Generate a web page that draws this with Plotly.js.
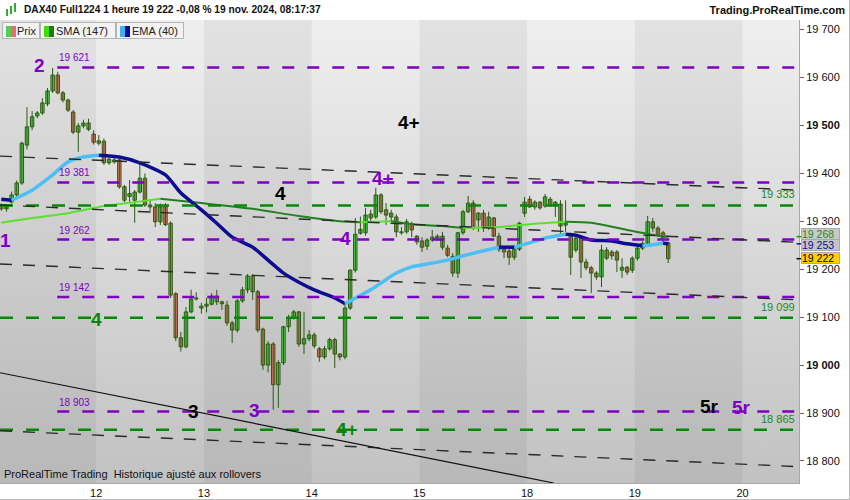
<!DOCTYPE html>
<html><head><meta charset="utf-8">
<script src="https://cdn.plot.ly/plotly-3.0.1.min.js"></script>
<style>
body{margin:0;width:850px;height:500px;overflow:hidden;background:#fff;font-family:"Liberation Sans",Arial,sans-serif;}
#wrap{position:relative;width:850px;height:500px;}
#bg{position:absolute;left:0;top:20px;width:799px;height:463px;background:linear-gradient(#efefef,#c2c2c2);}
#chart{position:absolute;left:0;top:0;width:850px;height:500px;}
#hdr{position:absolute;left:24px;top:4px;font-weight:bold;font-size:10.2px;color:#111;white-space:nowrap;}
#site{position:absolute;right:5px;top:4px;font-weight:bold;font-size:11px;color:#111;}
.ico{position:absolute;}
.lg{position:absolute;top:22px;height:17px;border:1px solid #b4b4b4;background:#f3f3f3;font-size:11px;color:#222;line-height:17px;box-sizing:border-box;}
.sq{position:absolute;top:3px;width:5px;height:11px;}
#frame{position:absolute;left:0;top:0;width:850px;height:500px;box-sizing:border-box;border-right:1px solid #bbb;border-bottom:1px solid #bbb;pointer-events:none;}
</style></head>
<body><div id="wrap">
<div id="bg"></div>
<div id="chart"></div>
<div class="ico" style="left:6px;top:9px;width:2px;height:7px;background:#3a3;"></div>
<div class="ico" style="left:10px;top:6px;width:2px;height:8px;background:#3a3;"></div>
<div class="ico" style="left:14px;top:3px;width:2px;height:9px;background:#3a3;"></div>
<div id="hdr">DAX40 Full1224 1 heure 19 222 -0,08 % 19 nov. 2024, 08:17:37</div>
<div id="site">Trading.ProRealTime.com</div>
<div class="lg" style="left:2px;width:38px;"><div class="sq" style="left:3px;background:#55cc55"></div><div class="sq" style="left:8px;background:#e07068"></div><span style="position:absolute;left:14px;">Prix</span></div>
<div class="lg" style="left:40px;width:76px;"><div class="sq" style="left:3px;background:#44dd00"></div><div class="sq" style="left:8px;background:#1a7a1a"></div><span style="position:absolute;left:15px;">SMA (147)</span></div>
<div class="lg" style="left:116px;width:68px;"><div class="sq" style="left:3px;background:#3bb4f0"></div><div class="sq" style="left:8px;background:#0a0a9a"></div><span style="position:absolute;left:15px;">EMA (40)</span></div>
<div id="frame"></div>
</div>
<script>
// ---- data ----
const dayLabels = ['12','13','14','15','18','19','20'];
const dayStartSlots = [21,42,63,84,105,126,147];
const firstSlot = 2;
const openP = [19332,19326,19340,19355,19380,19459,19497,19520,19526,19545,
19572,19605,19568,19553,19528,19486,19499,19505,19482,19463,
19467,19422,19428,19428,19372,19352,19344,19361,19390,19334,
19330,19299,19332,19296,19149,19057,19038,19111,19138,19119,
19123,19127,19144,19132,19125,19088,19073,19134,19157,19186,
19153,19075,19000,19044,18959,19005,19080,19099,19111,19044,
19055,19063,19034,19017,19034,19053,19023,19017,19119,19198,
19275,19276,19315,19309,19355,19324,19309,19309,19276,19278,
19295,19269,19259,19248,19261,19265,19269,19244,19227,19192,
19276,19320,19338,19303,19317,19286,19307,19269,19242,19238,
19225,19242,19317,19346,19330,19340,19332,19346,19334,19336,
19292,19270,19240,19265,19215,19203,19192,19184,19240,19236,
19236,19198,19204,19198,19223,19244,19254,19299,19286,19276,
19255];
const highP = [19337,19334,19362,19385,19466,19538,19530,19530,19557,19578,
19620,19612,19572,19556,19532,19505,19512,19514,19490,19480,
19473,19432,19432,19432,19376,19386,19365,19422,19400,19343,
19338,19337,19338,19300,19152,19069,19121,19157,19152,19130,
19140,19150,19157,19134,19134,19092,19138,19163,19190,19190,
19157,19078,19050,19048,19010,19082,19105,19115,19113,19111,
19073,19068,19038,19040,19057,19057,19025,19128,19200,19307,
19310,19328,19324,19370,19359,19338,19324,19315,19288,19305,
19299,19271,19267,19265,19282,19273,19278,19251,19234,19278,
19324,19353,19344,19319,19324,19320,19309,19276,19246,19244,
19251,19299,19351,19353,19344,19342,19357,19351,19342,19344,
19344,19276,19270,19270,19222,19207,19196,19251,19246,19240,
19240,19223,19207,19227,19248,19258,19311,19307,19290,19280,
19257];
const lowP = [19322,19320,19337,19350,19376,19450,19490,19515,19522,19540,
19568,19565,19548,19528,19482,19445,19494,19488,19460,19458,
19418,19418,19420,19368,19340,19338,19297,19358,19330,19318,
19288,19292,19290,19140,19050,19028,19035,19108,19135,19107,
19110,19125,19125,19115,19082,19046,19068,19130,19150,19136,
19068,18990,18985,18907,18911,19000,19069,19095,19038,19023,
19050,19035,19007,19012,19030,18994,19010,19012,19115,19193,
19272,19270,19297,19305,19315,19292,19300,19267,19272,19274,
19267,19251,19236,19240,19257,19259,19240,19225,19184,19182,
19272,19317,19282,19278,19278,19282,19267,19236,19223,19209,
19219,19238,19309,19328,19324,19324,19328,19330,19309,19271,
19278,19188,19235,19182,19198,19150,19178,19163,19219,19220,
19194,19182,19188,19192,19218,19240,19250,19278,19268,19255,
19213];
const closeP = [19326,19330,19355,19380,19463,19497,19518,19526,19547,19572,
19605,19568,19553,19532,19486,19499,19505,19492,19465,19468,
19422,19430,19424,19372,19344,19358,19361,19390,19334,19330,
19299,19330,19293,19146,19057,19038,19111,19138,19140,19123,
19127,19144,19132,19128,19088,19073,19134,19157,19186,19153,
19073,19000,19044,18959,19005,19080,19099,19111,19044,19055,
19063,19040,19017,19034,19053,19023,19017,19119,19198,19273,
19283,19313,19307,19355,19320,19313,19317,19278,19278,19299,
19282,19257,19246,19261,19267,19269,19246,19229,19192,19276,
19320,19338,19286,19317,19286,19309,19269,19242,19236,19225,
19242,19296,19340,19330,19340,19328,19351,19334,19340,19290,
19296,19225,19265,19215,19203,19192,19184,19240,19223,19228,
19219,19204,19194,19223,19244,19254,19299,19286,19272,19265,
19222];
const smaSlot = [2.5,8.5,15.5,21.5,28.5,33.5,41.5,51.5,60.5,68.5,72.5,78.5,82.5,88.5,92.5,99.5,105.5,112.5,117.5,124.5,130.5,132.5];
const smaVal  = [19297,19307,19317,19330,19340,19347,19338,19326,19311,19300,19298,19300,19294,19290,19286,19288,19294,19299,19297,19282,19270,19268];
const emaSlot = [2.5,4.5,8.5,12.5,15.5,18.5,21.5,25.5,29.5,34.5,37.5,41.5,44.5,47.5,51.5,54.5,57.5,60.5,63.5,67.5,69.5,74.5,79.5,82.5,85.5,89.5,92.5,95.5,99.5,102.5,105.5,108.5,112.5,114.5,117.5,121.5,124.5,127.5,129.5,131.5,132.5];
const emaVal  = [19346,19344,19365,19397,19424,19434,19438,19434,19422,19397,19359,19324,19296,19267,19246,19219,19192,19173,19157,19140,19128,19157,19192,19205,19211,19219,19228,19236,19246,19246,19255,19265,19273,19271,19261,19259,19253,19249,19251,19254,19253];
const purpleLevels = [19621,19381,19262,19142,18903];
const greenLevels = [19333,19099,18865];
const channelLines = [[2.24,19436,158,19365],[2.24,19334,158,19256],[2.24,19211,158,19136],[2.24,18863,158,18788]];
const solidLine = [2.24,18984,110.2,18754];
const lastSma = 19268, lastEma = 19253, lastPrice = 19222;
const yTicks = [18800,18900,19000,19100,19200,19300,19400,19500,19600,19700];

// ---- helpers ----
const fmt = v => String(v).replace(/(\d)(\d{3})$/, '$1 $2');
const xRange = [2.24, 158.0];
const xs = openP.map((_, i) => firstSlot + i + 0.5);

function coloredLine(sx, sy, up, down, width) {
  const traces = [];
  let cur = null;
  for (let i = 0; i < sx.length - 1; i++) {
    const c = sy[i+1] > sy[i] ? up : down;
    if (!cur || cur.line.color !== c) {
      cur = {type:'scatter', mode:'lines', x:[sx[i]], y:[sy[i]], line:{color:c, width:width, shape:'spline', smoothing:0.6}, hoverinfo:'skip'};
      traces.push(cur);
    }
    cur.x.push(sx[i+1]); cur.y.push(sy[i+1]);
  }
  return traces;
}

// wicks
const wx = [], wy = [];
xs.forEach((x, i) => { wx.push(x, x, null); wy.push(highP[i], lowP[i], null); });
const wickTrace = {type:'scatter', mode:'lines', x:wx, y:wy, line:{color:'#2b5a12', width:1}, hoverinfo:'skip', connectgaps:false};
// bodies
const bodyBase = openP.map((o, i) => Math.min(o, closeP[i]));
const bodyH = openP.map((o, i) => Math.max(Math.abs(closeP[i] - o), 1.5));
const bodyCol = openP.map((o, i) => closeP[i] >= o ? '#55d655' : '#e8766c');
const bodyTrace = {type:'bar', x:xs, y:bodyH, base:bodyBase, width:0.66, marker:{color:bodyCol, line:{color:'#2b5a12', width:1}}, hoverinfo:'skip'};

const data = [wickTrace, bodyTrace].concat(
  coloredLine(smaSlot, smaVal, '#5be02e', '#23801f', 2),
  coloredLine(emaSlot, emaVal, '#4cbff5', '#0d0d90', 3.5)
);

const shapes = [];
const bandStarts = [-5, 42, 84, 126];
bandStarts.forEach(s => shapes.push({type:'rect', xref:'x', yref:'paper', x0:s, x1:s === -5 ? 21 : s + 21, y0:0, y1:1, fillcolor:'rgba(0,0,0,0.05)', line:{width:0}, layer:'below'}));
purpleLevels.forEach(v => shapes.push({type:'line', xref:'x', yref:'y', x0:13.4, x1:xRange[1], y0:v, y1:v, line:{color:'#8000c4', width:2.5, dash:'12px,13px'}}));
greenLevels.forEach(v => shapes.push({type:'line', xref:'x', yref:'y', x0:xRange[0], x1:xRange[1], y0:v, y1:v, line:{color:'#0a860a', width:2.5, dash:'13px,13px'}}));
channelLines.forEach(l => shapes.push({type:'line', xref:'x', yref:'y', x0:l[0], y0:l[1], x1:l[2], y1:l[3], line:{color:'#2a2a2a', width:1.4, dash:'12px,11px'}}));
shapes.push({type:'line', xref:'x', yref:'y', x0:solidLine[0], y0:solidLine[1], x1:solidLine[2], y1:solidLine[3], line:{color:'#111', width:1.2}});
[[lastSma,'#1a8a1a'],[lastEma,'#0d0d90'],[lastPrice,'#000']].forEach(p => shapes.push({type:'line', xref:'paper', yref:'y', x0:0.997, x1:1.005, y0:p[0], y1:p[0], line:{color:p[1], width:1.5}}));

const annotations = [];
purpleLevels.forEach(v => annotations.push({xref:'x', yref:'y', x:13.4, y:v, xanchor:'left', yanchor:'bottom', yshift:2, text:fmt(v), showarrow:false, font:{size:10, color:'#8000c4'}}));
greenLevels.forEach(v => annotations.push({xref:'paper', yref:'y', x:0.997, y:v, xanchor:'right', yanchor:'bottom', yshift:3, text:fmt(v), showarrow:false, font:{size:11, color:'#1a8a1a'}}));
const waveLabels = [
  ['2',10.0,19626,'#8000c4'],['1',3.4,19259,'#8000c4'],['4+',82.0,19507,'#000'],['4',57.0,19357,'#000'],
  ['4+',76.9,19390,'#8000c4'],['4',69.5,19265,'#8000c4'],['4',21.0,19096,'#0a860a'],['3',39.9,18904,'#000'],
  ['3',51.9,18906,'#8000c4'],['4+',69.9,18865,'#0a860a'],['5r',140.6,18913,'#000'],['5r',146.7,18911,'#8000c4']
];
waveLabels.forEach(w => annotations.push({xref:'x', yref:'y', x:w[1], y:w[2], text:'<b>'+w[0]+'</b>', showarrow:false, font:{size:19, color:w[3]}}));
annotations.push({xref:'paper', yref:'paper', x:0.002, y:0, xanchor:'left', yanchor:'bottom', yshift:1, text:'ProRealTime Trading  Historique ajusté aux rollovers', showarrow:false, font:{size:11, color:'#111'}});
[[lastSma,'#1a8a1a','#c9c9c9',3],[lastEma,'#0d0d90','#c4c4c4',-1],[lastPrice,'#000','#ffd000',1]].forEach(p => annotations.push({
  xref:'paper', yref:'y', x:1, y:p[0], xanchor:'left', xshift:2, yshift:p[3], text:fmt(p[0]), showarrow:false,
  font:{size:10.5, color:p[1]}, bgcolor:p[2], bordercolor:'#a8a8a8', borderwidth:1, borderpad:0, width:37, height:10, align:'left'}));

const layout = {
  width:850, height:500, margin:{l:0, r:51, t:20, b:17},
  paper_bgcolor:'rgba(0,0,0,0)', plot_bgcolor:'rgba(0,0,0,0)',
  font:{family:'"Liberation Sans", Arial, sans-serif', size:11, color:'#111'},
  showlegend:false, barmode:'overlay', bargap:0,
  xaxis:{range:xRange, tickvals:dayStartSlots, ticktext:dayLabels, showgrid:false, zeroline:false,
         showline:true, linecolor:'#a8a8a8', ticks:'', tickfont:{size:11}, fixedrange:true},
  yaxis:{side:'right', range:[18754, 19720], tickvals:yTicks,
         ticktext:yTicks.map(v => (v===19500||v===19000) ? '<b>'+fmt(v)+'</b>' : fmt(v)),
         ticks:'outside', ticklen:4, tickcolor:'#666', showline:true, linecolor:'#a8a8a8',
         showgrid:false, zeroline:false, tickfont:{size:11}, fixedrange:true},
  shapes:shapes, annotations:annotations
};
Plotly.newPlot('chart', data, layout, {displayModeBar:false, staticPlot:true});
</script>
</body></html>
